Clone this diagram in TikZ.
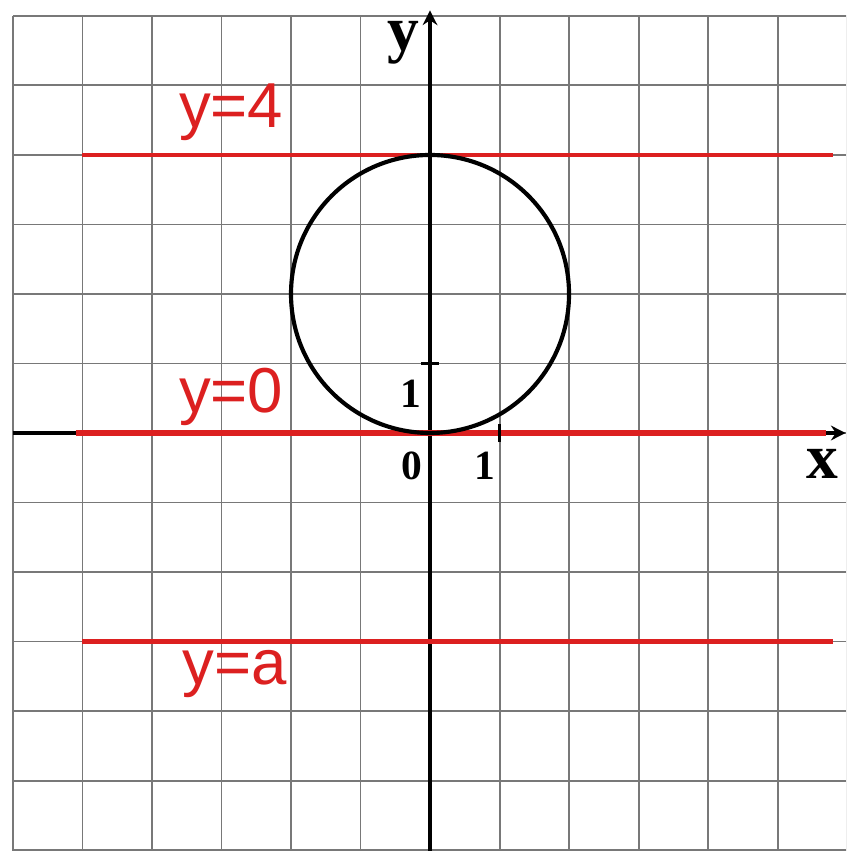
\documentclass[tikz,border=0pt]{standalone}
\usepackage{fontspec}
\setmainfont{Liberation Serif}
\newfontfamily\lblfont{Liberation Sans}
\usetikzlibrary{arrows.meta}
\definecolor{redline}{RGB}{220,32,32}
\definecolor{gridgray}{RGB}{120,120,120}
\begin{document}
\begin{tikzpicture}[
  gridline/.style={draw=gridgray,line width=0.8pt},
  axis/.style={draw=black,line width=1.6pt,-{Stealth[length=6pt,width=6pt]}},
  level/.style={draw=redline,line width=1.8pt},
  lvllabel/.style={text=redline,font=\lblfont\fontsize{26}{29}\selectfont,inner sep=0pt},
  axlabel/.style={font=\bfseries\fontsize{26}{29}\selectfont,inner sep=0pt},
  numlabel/.style={font=\bfseries\fontsize{17}{20}\selectfont,inner sep=0pt},
  curve/.style={draw=black,line width=1.7pt}
]
\useasboundingbox (-6.187,-6.014) rectangle (5.986,6.230);
\fill[white] (-6.187,-6.014) rectangle (5.986,6.230);
\begin{scope}
\clip (-6.187,-6.014) rectangle (5.986,6.230);
\draw[gridline] (-6,-6.5) grid (6.5,6);
\end{scope}
% axes
\coordinate (xs) at (-6,0);
\coordinate (xe) at (5.98,0);
\coordinate (ys) at (0,-6.1);
\coordinate (ye) at (0,6.08);
\draw[axis] (xs) -- (xe);
\draw[axis] (ys) -- (ye);
% red level lines
\coordinate (a1) at (-5,4); \coordinate (a2) at (5.8,4);
\coordinate (b1) at (-5.1,0); \coordinate (b2) at (5.7,0);
\coordinate (c1) at (-5,-3); \coordinate (c2) at (5.8,-3);
\draw[level] (a1) -- (a2);
\draw[level,line width=2.2pt] (b1) -- (b2);
\draw[level] (c1) -- (c2);
% circle
\coordinate (ctr) at (0,2);
\draw[curve] (ctr) circle[radius=2];
% ticks
\coordinate (tx) at (1,0);
\coordinate (ty) at (0,1);
\draw[line width=1.5pt] ([yshift=-0.13cm]tx) -- ([yshift=0.13cm]tx);
\draw[line width=1.5pt] ([xshift=-0.13cm]ty) -- ([xshift=0.13cm]ty);
% labels
\node[lvllabel] (l4) at (-2.86,4.62) {y=4};
\node[lvllabel] (l0) at (-2.86,0.52) {y=0};
\node[lvllabel] (la) at (-2.81,-3.47) {y=a};
\node[axlabel] (ylab) at (-0.38,5.62) {y};
\node[axlabel] (xlab) at (5.64,-0.45) {x};
\node[numlabel] (n0) at (-0.26,-0.47) {0};
\node[numlabel] (n1x) at (0.79,-0.47) {1};
\node[numlabel] (n1y) at (-0.28,0.56) {1};
\end{tikzpicture}
\end{document}
